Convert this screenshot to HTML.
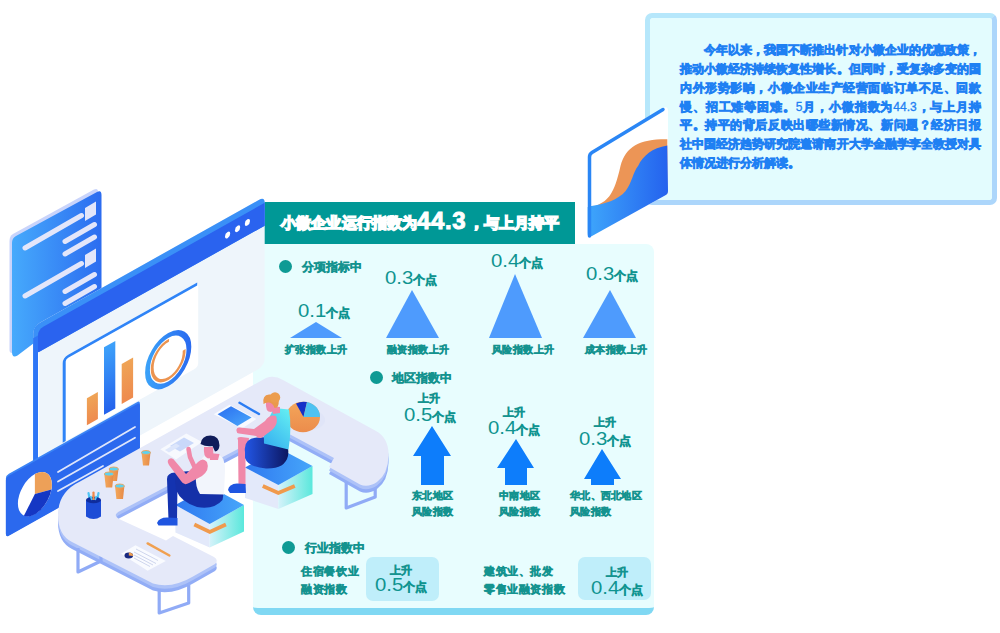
<!DOCTYPE html>
<html><head><meta charset="utf-8">
<style>
*{margin:0;padding:0;box-sizing:border-box}
html,body{width:1000px;height:633px;overflow:hidden;background:#fff}
body{position:relative;font-family:"Liberation Sans",sans-serif}
.abs{position:absolute}
#tbox{left:645px;top:13px;width:352px;height:192px;border:5px solid #b6e7fb;border-right-color:#acd6fb;border-bottom-color:#acd6fb;background:#e3fcfe;border-radius:7px}
.tl{position:absolute;left:680px;width:301px;font-size:12px;line-height:12px;color:#1f80f3;white-space:nowrap;text-align:justify;text-align-last:justify;-webkit-text-stroke:1.3px #1f80f3}
#panel{left:253px;top:244px;width:401px;height:371px;background:#e8fdfe;border-radius:0 8px 8px 8px;border-bottom:7px solid #80d8f3}
#title{left:257px;top:202px;width:318px;height:42px;background:#009896}
.dot{position:absolute;width:13px;height:13px;border-radius:50%;background:#0e9a94}
.t{position:absolute;white-space:nowrap;text-align:justify;text-align-last:justify;-webkit-text-stroke:1px currentColor}
.num{position:absolute;font-size:18px;line-height:18px;color:#0f9490;white-space:nowrap}
.num .d{display:inline-block;transform:scaleX(1.13);transform-origin:0 0;margin-right:3.2px}
.num .u{display:inline-block;width:24px;font-size:12px;font-weight:normal;text-align:justify;text-align-last:justify;-webkit-text-stroke:1px currentColor}
.box{position:absolute;background:#bfeefa;border-radius:7px}
.tl .n{-webkit-text-stroke:0.3px #1f80f3}
</style></head><body>
<div id="tbox" class="abs"></div>
<div class="tl" style="top:44px;padding-left:24px">今年以来，我国不断推出针对小微企业的优惠政策，</div>
<div class="tl" style="top:63px;">推动小微经济持续恢复性增长。但同时，受复杂多变的国</div>
<div class="tl" style="top:82px;">内外形势影响，小微企业生产经营面临订单不足、回款</div>
<div class="tl" style="top:101px;">慢、招工难等困难。<span class="n">5</span>月，小微指数为<span class="n">44.3</span>，与上月持</div>
<div class="tl" style="top:119px;">平。持平的背后反映出哪些新情况、新问题？经济日报</div>
<div class="tl" style="top:138px;">社中国经济趋势研究院邀请南开大学金融学李全教授对具</div>
<div class="tl" style="top:157px;text-align-last:left">体情况进行分析解读。</div>
<div id="panel" class="abs"></div>
<div id="title" class="abs"></div>
<div class="t" style="left:281px;top:214px;width:136px;font-size:15px;line-height:17px;color:#ffffff;font-weight:bold;-webkit-text-stroke:1.5px #fff">小微企业运行指数为</div>
<div class="t" style="left:417px;top:208px;font-size:24px;line-height:26px;color:#fff;font-weight:bold;letter-spacing:0.6px;-webkit-text-stroke:0.9px #fff">44.3</div>
<div class="t" style="left:469px;top:214px;width:90px;font-size:15px;line-height:17px;color:#ffffff;font-weight:bold;-webkit-text-stroke:1.5px #fff">，与上月持平</div>
<div class="dot" style="left:279px;top:260px"></div>
<div class="t" style="left:302px;top:261px;width:58px;font-size:11.6px;line-height:11.6px;color:#14938f;font-weight:normal;">分项指标中</div>
<svg class="abs" style="left:0;top:0" width="1000" height="633">
<g fill="#4e9bfd">
<polygon points="290,338 316,322 342,338"/>
<polygon points="386,338 412,290 439,338"/>
<polygon points="489,338 515,274 542,338"/>
<polygon points="583,338 610,290 636,338"/>
</g>
<g fill="#0d7dfb">
<polygon points="432,426 451,456 444,456 444,485 421,485 421,456 413,456"/>
<polygon points="516,439 534,468 527,468 527,485 505,485 505,468 497,468"/>
<polygon points="602,449 621,479 614,479 614,485 591,485 591,479 584,479"/>
</g>
</svg>
<div class="num" style="left:298px;top:302px"><span class="d">0.1</span><span class="u">个点</span></div>
<div class="num" style="left:385px;top:269px"><span class="d">0.3</span><span class="u">个点</span></div>
<div class="num" style="left:491px;top:252px"><span class="d">0.4</span><span class="u">个点</span></div>
<div class="num" style="left:586px;top:265px"><span class="d">0.3</span><span class="u">个点</span></div>
<div class="t" style="left:285px;top:345px;width:62px;font-size:10.2px;line-height:10.2px;color:#14938f;font-weight:normal;">扩张指数上升</div>
<div class="t" style="left:387px;top:345px;width:62px;font-size:10.2px;line-height:10.2px;color:#14938f;font-weight:normal;">融资指数上升</div>
<div class="t" style="left:492px;top:345px;width:62px;font-size:10.2px;line-height:10.2px;color:#14938f;font-weight:normal;">风险指数上升</div>
<div class="t" style="left:585px;top:345px;width:62px;font-size:10.2px;line-height:10.2px;color:#14938f;font-weight:normal;">成本指数上升</div>
<div class="dot" style="left:370px;top:371px"></div>
<div class="t" style="left:392px;top:372px;width:58px;font-size:11.6px;line-height:11.6px;color:#14938f;font-weight:normal;">地区指数中</div>
<div class="t" style="left:418px;top:393px;width:22.4px;font-size:11.2px;line-height:11.2px;color:#14938f;font-weight:normal;">上升</div>
<div class="num" style="left:404px;top:406px"><span class="d">0.5</span><span class="u">个点</span></div>
<div class="t" style="left:503px;top:407px;width:22.4px;font-size:11.2px;line-height:11.2px;color:#14938f;font-weight:normal;">上升</div>
<div class="num" style="left:488px;top:419px"><span class="d">0.4</span><span class="u">个点</span></div>
<div class="t" style="left:594px;top:417px;width:22.4px;font-size:11.2px;line-height:11.2px;color:#14938f;font-weight:normal;">上升</div>
<div class="num" style="left:579px;top:430px"><span class="d">0.3</span><span class="u">个点</span></div>
<div class="t" style="left:412px;top:491px;width:41px;font-size:10.2px;line-height:10.2px;color:#14938f;font-weight:normal;">东北地区</div>
<div class="t" style="left:412px;top:507px;width:41px;font-size:10.2px;line-height:10.2px;color:#14938f;font-weight:normal;">风险指数</div>
<div class="t" style="left:499px;top:491px;width:41px;font-size:10.2px;line-height:10.2px;color:#14938f;font-weight:normal;">中南地区</div>
<div class="t" style="left:499px;top:507px;width:41px;font-size:10.2px;line-height:10.2px;color:#14938f;font-weight:normal;">风险指数</div>
<div class="t" style="left:570px;top:491px;width:71.5px;font-size:10.2px;line-height:10.2px;color:#14938f;font-weight:normal;">华北、西北地区</div>
<div class="t" style="left:570px;top:507px;width:41px;font-size:10.2px;line-height:10.2px;color:#14938f;font-weight:normal;">风险指数</div>
<div class="dot" style="left:282px;top:541px"></div>
<div class="t" style="left:305px;top:542px;width:58px;font-size:11.6px;line-height:11.6px;color:#14938f;font-weight:normal;">行业指数中</div>
<div class="t" style="left:301px;top:566px;width:57.5px;font-size:11.4px;line-height:11.4px;color:#14938f;font-weight:normal;">住宿餐饮业</div>
<div class="t" style="left:301px;top:583.5px;width:46px;font-size:11.4px;line-height:11.4px;color:#14938f;font-weight:normal;">融资指数</div>
<div class="t" style="left:484px;top:566px;width:69px;font-size:11.4px;line-height:11.4px;color:#14938f;font-weight:normal;">建筑业、批发</div>
<div class="t" style="left:484px;top:583.5px;width:80.5px;font-size:11.4px;line-height:11.4px;color:#14938f;font-weight:normal;">零售业融资指数</div>
<div class="box" style="left:366px;top:557px;width:73px;height:44px"></div>
<div class="box" style="left:578px;top:557px;width:73px;height:43px"></div>
<div class="t" style="left:390px;top:565px;width:22.4px;font-size:11.2px;line-height:11.2px;color:#14938f;font-weight:normal;">上升</div>
<div class="num" style="left:375px;top:576px"><span class="d">0.5</span><span class="u">个点</span></div>
<div class="t" style="left:606px;top:567px;width:22.4px;font-size:11.2px;line-height:11.2px;color:#14938f;font-weight:normal;">上升</div>
<div class="num" style="left:591px;top:579px"><span class="d">0.4</span><span class="u">个点</span></div>
<svg class="abs" style="left:0;top:0" width="1000" height="633" viewBox="0 0 1000 633">
<defs>
<linearGradient id="gDoc" x1="0" x2="1" y1="0" y2="0"><stop offset="0" stop-color="#46aafc"/><stop offset="1" stop-color="#2c6cf0"/></linearGradient>
<linearGradient id="gBarO" x1="0" x2="0" y1="0" y2="1"><stop offset="0" stop-color="#efa456"/><stop offset="1" stop-color="#ee8a4e"/></linearGradient>
<linearGradient id="gBarB" x1="0" x2="0" y1="0" y2="1"><stop offset="0" stop-color="#3ea2fa"/><stop offset="1" stop-color="#2462ec"/></linearGradient>
<linearGradient id="gRing" x1="0" x2="1" y1="0" y2="0"><stop offset="0" stop-color="#3aa0f8"/><stop offset="1" stop-color="#2a6cf0"/></linearGradient>
<linearGradient id="gDeco" x1="0" x2="1" y1="0" y2="0"><stop offset="0" stop-color="#3ea6fb"/><stop offset="1" stop-color="#2462ee"/></linearGradient>
<linearGradient id="gStoolTop" x1="0" x2="1" y1="0" y2="0"><stop offset="0" stop-color="#2f78f0"/><stop offset="1" stop-color="#46a6fa"/></linearGradient>
<linearGradient id="gStoolR" x1="0" x2="1" y1="0" y2="0"><stop offset="0" stop-color="#d5f2fa"/><stop offset="1" stop-color="#5ae8dc"/></linearGradient>
<linearGradient id="gTop" x1="0.8" x2="0.2" y1="0" y2="1"><stop offset="0" stop-color="#62ecf2"/><stop offset="1" stop-color="#36b0f0"/></linearGradient>
<linearGradient id="gPants" x1="0" x2="1" y1="0" y2="0"><stop offset="0" stop-color="#2256e6"/><stop offset="1" stop-color="#0c1660"/></linearGradient>
<linearGradient id="gTab" x1="0" x2="1" y1="0" y2="1"><stop offset="0" stop-color="#2a6ef0"/><stop offset="1" stop-color="#4aa8fb"/></linearGradient>
<linearGradient id="gPie" x1="0" x2="0" y1="0" y2="1"><stop offset="0" stop-color="#f3a65a"/><stop offset="1" stop-color="#ec8c4c"/></linearGradient>
<linearGradient id="gCup" x1="0" x2="1" y1="0" y2="0"><stop offset="0" stop-color="#f4a95c"/><stop offset="1" stop-color="#e68a48"/></linearGradient>
</defs>

<!-- deco card top right -->
<g>
<path d="M590,152 L663,108 Q668,105.5 668,111 L668,191 Q668,194 665,195.5 L592,236 Q587.7,238.5 587.7,233 L587.7,157 Q587.7,153.5 590,152Z" fill="#fff"/>
<path d="M597.8,205 C608,200 614,195 620.5,166 C626,146 640,139 667.3,139.3 L667.3,193.6 L597,232 Z" fill="#ec9556"/>
<path d="M590.2,206.2 C605,204 618,200 625.6,191 C632,183 633,172 638.2,165.8 C643,156 652,148 667.3,145.6 L668,191 Q668,194 665,195.5 L592,236 Q587.7,238.5 587.7,233 L587.7,207 Z" fill="url(#gDeco)"/>
<path d="M589.5,236 L589.5,157 Q589.5,154 592,152.5 L663,109.5" fill="none" stroke="#2a86f5" stroke-width="3.5" stroke-linecap="round"/>
</g>

<!-- doc card left -->
<g>
<path d="M9.5,241 Q9.5,236 13,234 L94,189.5 Q98,187.5 98,192 L98,300 L12,353 Q9.5,353 9.5,350 Z" fill="#c9d4fb"/>
<path d="M12,243 Q12,238 16,236 L97,192 Q101.5,189.5 101.5,195 L101.5,300 L34,343 L17.5,355.5 Q12,358.5 12,352 Z" fill="url(#gDoc)"/>
<g stroke="#e3e6fa" stroke-width="5" stroke-linecap="round" fill="none">
<line x1="25" y1="248" x2="81.5" y2="215.5"/>
<line x1="65" y1="241.5" x2="94.5" y2="224.5"/>
<line x1="65" y1="254" x2="94.5" y2="237"/>
<line x1="25" y1="296" x2="81.5" y2="263.5"/>
<line x1="65" y1="291.5" x2="94.5" y2="274.5"/>
<line x1="65" y1="303.5" x2="94.5" y2="286.5"/>
</g>
<polygon points="85,208 96,201.5 96,214.5 85,221" fill="#e3e6fa"/>
<polygon points="85,255 96,248.5 96,261.5 85,268" fill="#e3e6fa"/>
</g>

<!-- monitor -->
<g transform="matrix(1,-0.56,0,1,33.2,326.3)">
<rect x="0" y="0" width="231.5" height="169" rx="7" fill="#eef5fb"/>
<path d="M0,164 L0,7 Q0,0 7,0 L225.5,0 Q231.5,0 231.5,6 L231.5,29 L4.8,29 L4.8,164 Z" fill="#3a90f7"/>
<path d="M0,164 L0,12 L4.8,12 L4.8,164 Z" fill="#2f76f6"/>
<path d="M4.8,29 L4.8,12 Q4.8,6.2 10.5,6.2 L231.5,6.2 L231.5,29 Z" fill="#2a63ef"/>
<rect x="4.8" y="29" width="1.2" height="135" fill="#fbfdff"/>
<ellipse cx="194.4" cy="17.6" rx="2.6" ry="3.1" fill="#fff"/>
<ellipse cx="204.4" cy="16.9" rx="2.6" ry="3.1" fill="#fff"/>
<ellipse cx="214.2" cy="16.1" rx="2.6" ry="3.1" fill="#fff"/>
<!-- chart card -->
<rect x="30" y="48" width="135" height="85" rx="4" fill="#fff"/>
<path d="M31,133 L31,53.5 Q31,49.5 35,49.5 L164,49.5" fill="none" stroke="#2f84f7" stroke-width="3"/>
<rect x="53.7" y="102" width="11" height="27" fill="url(#gBarO)"/>
<rect x="70.8" y="60.6" width="11.3" height="67.5" fill="url(#gBarB)"/>
<rect x="88.5" y="87.2" width="11.4" height="40" fill="url(#gBarO)"/>
<ellipse cx="135" cy="109" rx="20.7" ry="24.2" fill="none" stroke="url(#gRing)" stroke-width="4.8"/>
<path d="M135.84,90 A16,19 0 1 0 150.98,108" fill="none" stroke="#ec9450" stroke-width="2.9"/>
</g>


<!-- pie card -->
<g transform="matrix(1,-0.558,0,1,5.9,476.8)">
<rect x="0" y="-1.5" width="134" height="61.5" rx="3" fill="#3b84f5"/>
<rect x="0" y="0.5" width="134" height="60" rx="3" fill="#2b69ee"/>
<ellipse cx="29" cy="33.5" rx="17" ry="20" fill="#fff"/>
<path d="M29,33.5 L29,13.5 A17,20 0 0 1 45.5,38 Z" fill="#eda058"/>
<path d="M29,33.5 L45.5,38 A17,20 0 0 1 18,49 Z" fill="#1537c4"/>
</g>
<g stroke="#dfe6fb" stroke-width="1.8" stroke-linecap="round">
<line x1="58" y1="472" x2="135" y2="427"/>
<line x1="58" y1="481.5" x2="135" y2="437.7"/>
<line x1="58" y1="491" x2="103" y2="466"/>
</g>

<!-- table -->
<g id="table">
<path transform="translate(0,7)" d="M80,481.5 L266,378 Q274,374.5 283,380 L376,431 Q389,438 388.5,456 Q388,474 377,482 Q368,488 360,484.5 L329,467 L334,458 L278,428 L120,511 Q112,515 119,519 L166,540.5 L173,536 L214,557 Q219,560 215,564 L193,576.5 Q172,589 153,583.5 L72,542 Q58,535 58,515 Q58,492 80,481.5 Z" fill="#92adf6"/>
<path transform="translate(0,3.5)" d="M80,481.5 L266,378 Q274,374.5 283,380 L376,431 Q389,438 388.5,456 Q388,474 377,482 Q368,488 360,484.5 L329,467 L334,458 L278,428 L120,511 Q112,515 119,519 L166,540.5 L173,536 L214,557 Q219,560 215,564 L193,576.5 Q172,589 153,583.5 L72,542 Q58,535 58,515 Q58,492 80,481.5 Z" fill="#adc2f8"/>
<g stroke="#90abf6" stroke-width="3.2" fill="none" stroke-linejoin="round">
<polyline points="78,548 78,572 101,561 101,556"/>
<polyline points="159.2,589 159.2,613 188.7,603 188.7,585"/>
<polyline points="346.2,482 346.2,508 375.2,497 375.2,489"/>
</g>
<path d="M80,481.5 L266,378 Q274,374.5 283,380 L376,431 Q389,438 388.5,456 Q388,474 377,482 Q368,488 360,484.5 L329,467 L334,458 L278,428 L120,511 Q112,515 119,519 L166,540.5 L173,536 L214,557 Q219,560 215,564 L193,576.5 Q172,589 153,583.5 L72,542 Q58,535 58,515 Q58,492 80,481.5 Z" fill="#e5e9f9"/>
</g>
<!-- table items -->
<g id="items">
<!-- man's paper -->
<polygon points="160.3,449.2 186.3,433.4 202.1,442 176,459.5" fill="#f7f9fe"/>
<polygon points="170,446 184,437.5 194,443 180,451.5" fill="#c9d8fa"/>
<polygon points="165,450 176,443.5 180,446 169,452.5" fill="#dde6fb"/>
<!-- tablet -->
<polygon points="213.7,414.2 229.5,404.8 256.4,419 242,428.5" fill="#f8faff"/>
<polygon points="217.6,414.2 231,406.3 251.6,417.4 237.4,426" fill="url(#gTab)"/>
<line x1="239.5" y1="402.8" x2="259" y2="414" stroke="#2a7cf3" stroke-width="2.4" stroke-linecap="round"/>
<!-- pie on table -->
<ellipse cx="309" cy="420" rx="16" ry="10" fill="#dfe3f8" opacity="0.8"/>
<ellipse cx="303" cy="417" rx="17" ry="15.2" fill="url(#gPie)"/>
<path d="M303.5,417 L296,403.5 A16.5,15.2 0 0 1 307,402 Z" fill="#1530c8"/>
<path d="M303.5,417 L307,402 A16.5,15.2 0 0 1 320,417 Z" fill="#4ec2f2"/>
<!-- cups -->
<g>
<path d="M141.5,452.5 L150.5,452.5 L149,465.5 L143,465.5 Z" fill="url(#gCup)"/>
<ellipse cx="146" cy="452.5" rx="4.5" ry="2" fill="#5cd2f0" stroke="#f0a258" stroke-width="0.9"/>
<path d="M109,469 L118.5,469 L117,481 L110.5,481 Z" fill="url(#gCup)"/>
<ellipse cx="113.7" cy="469" rx="4.7" ry="2" fill="#5cd2f0" stroke="#f0a258" stroke-width="0.9"/>
<path d="M104.3,474 L113.7,474 L112.2,487.4 L105.8,487.4 Z" fill="url(#gCup)"/>
<ellipse cx="109" cy="474" rx="4.7" ry="2" fill="#5cd2f0" stroke="#f0a258" stroke-width="0.9"/>
<path d="M115,486 L124.4,486 L123,499 L116.4,499 Z" fill="url(#gCup)"/>
<ellipse cx="119.7" cy="486" rx="4.7" ry="2" fill="#5cd2f0" stroke="#f0a258" stroke-width="0.9"/>
</g>
<!-- pen holder -->
<g>
<line x1="90.5" y1="504" x2="88.5" y2="493" stroke="#4fc4f5" stroke-width="2.2" stroke-linecap="round"/>
<line x1="93.5" y1="504" x2="93.5" y2="492.5" stroke="#f08a4b" stroke-width="2.2" stroke-linecap="round"/>
<line x1="96.5" y1="504" x2="98.5" y2="493" stroke="#4fc4f5" stroke-width="2.2" stroke-linecap="round"/>
<path d="M86,500 L101,500 L101,516.5 Q93.5,521.5 86,516.5 Z" fill="#1d4cd6"/>
<ellipse cx="93.5" cy="500" rx="7.5" ry="3.2" fill="#0f2c9c"/>
<line x1="92" y1="500" x2="90.5" y2="496" stroke="#4fc4f5" stroke-width="2"/>
<line x1="95" y1="500" x2="96.5" y2="496" stroke="#4fc4f5" stroke-width="2"/>
<line x1="93.5" y1="500" x2="93.5" y2="495.5" stroke="#f08a4b" stroke-width="2"/>
</g>
<!-- doc on front arm -->
<polygon points="121,553.8 135.5,545.3 165.8,561 147.6,570.7" fill="#f9fbff"/>
<g stroke="#c3cbe8" stroke-width="0.8">
<line x1="136" y1="549" x2="158" y2="560.5"/>
<line x1="134" y1="552" x2="156" y2="563.5"/>
<line x1="134" y1="555" x2="153" y2="565"/>
<line x1="134" y1="558" x2="150" y2="566.5"/>
</g>
<ellipse cx="128.8" cy="555.5" rx="4.3" ry="3" fill="#1a2a80"/>
<path d="M128.8,555.5 L128.8,552.5 A4.3,3 0 0 1 133,556 Z" fill="#f0a050"/>
<line x1="147.6" y1="543.4" x2="169.4" y2="555.5" stroke="#f0a050" stroke-width="2.4" stroke-linecap="round"/>
</g>

<!-- stool 2 (woman) -->
<g>
<polygon points="245,467.5 278.4,485 278.4,509 245,498" fill="#e3e9fa"/>
<polygon points="278.4,485 312.5,466 312.5,494 278.4,509" fill="url(#gStoolR)"/>
<polygon points="245,467.5 279.5,448.5 312.5,466 278.4,485" fill="url(#gStoolTop)"/>
<polyline points="262.8,486 278.3,493 294.8,486" fill="none" stroke="#f09a4c" stroke-width="3.8"/>
</g>
<!-- woman -->
<g>
<path d="M238,440 Q236,437 241,437 L249,438 L248,446 L245.5,446 L245.5,486 L238.5,487 Z" fill="#f088a9"/>
<path d="M228,490 Q229,484 237,483.5 L245.5,484 L246,493 L230,493 Z" fill="#1f55e0"/>
<path d="M245,452 Q243,439 257,437.5 L280,437 Q290,441 288,456 Q285,469 266,468.5 Q248,467 245,458 Z" fill="url(#gPants)"/>
<path d="M274,408 L289,409.5 Q292,428 288.5,449.5 L264,443.5 Q263,430 268,420 Z" fill="url(#gTop)"/>
<path d="M276,416 Q279,424 272,430 L262,437.5 Q258,439 256,436 L253,435.5 L239,433.5 Q236,433 236.5,429.5 Q237,427 240,427.5 L254,429 L265,421 Q270,414 276,416 Z" fill="#f088a9"/>
<path d="M271,406 L280,407 L280,413 L273,414 Z" fill="#f088a9"/>
<path d="M266,402 Q265,412 271,412 L276,410 L276,402 Z" fill="#f088a9"/>
<path d="M263.5,404 Q262,395 269,394.5 Q276,394 278.5,399 Q279.5,404 277,407.5 L274.5,408 Q273,403 269,402.5 Q266,402 263.5,404 Z" fill="#ea994c"/>
<circle cx="275" cy="397.5" r="5.2" fill="#ec9d4e"/>
</g>

<!-- stool 1 (man) -->
<g>
<polygon points="175.4,505.1 209.7,523.9 209.7,547.5 175.4,532.5" fill="#e3e9fa"/>
<polygon points="209.7,523.9 244,505.1 244,531.5 209.7,547.5" fill="url(#gStoolR)"/>
<polygon points="175.4,505.1 209.7,486.3 244,505.1 209.7,523.9" fill="url(#gStoolTop)"/>
<polyline points="194.3,524.5 209.8,532 225.9,524.5" fill="none" stroke="#f09a4c" stroke-width="3.8"/>
</g>
<!-- man -->
<g>
<path d="M167,479 Q167,473 175,472.5 L183,472 L182,484 L177.5,484 L177,519 L168.5,520 Z" fill="#1433b0"/>
<path d="M157,523 Q159,517.5 167,517.5 L177.5,518 L177.5,525.5 L158.5,525.5 Z" fill="#1f55e0"/>
<path d="M175,480 Q177,470.5 192,471 L214,477 Q226,485 222.5,500 Q214,510 197,507 Q181,502 176,490 Z" fill="#1530a8"/>
<path d="M206,454 L220,455.5 Q225,458 225,470 L224,494.5 L200,494 Q195,487 196,475 Q197,462 206,454 Z" fill="#f2f5fc"/>
<polyline points="195,468 190,457 188.5,449" fill="none" stroke="#f088a9" stroke-width="4.5" stroke-linecap="round" stroke-linejoin="round"/>
<path d="M207,462 Q210,470 202,476 L189,483 Q184,486 181,481 L169,465 Q166,460 170,458.5 Q173,457.5 175,461 L186,474 L198,462 Q203,457 207,462 Z" fill="#f088a9"/>
<path d="M208.5,453 L219.5,454 L218,460 L210,460 Z" fill="#f088a9"/>
<path d="M204,447 Q203,457 208,458.5 L213.5,457 L213,447 Z" fill="#f088a9"/>
<path d="M200.5,444 Q201.5,435.5 210.5,435.5 Q219.5,436 219.5,445.5 Q219,451 215,451.5 L212.5,446 Q206,447 200.5,444 Z" fill="#101c5a"/>
</g>
</svg>

</body></html>
